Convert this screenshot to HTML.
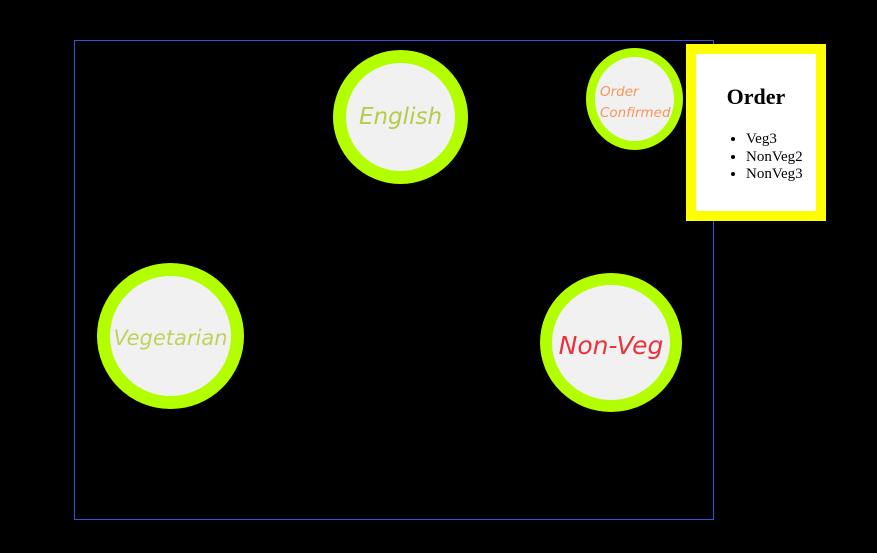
<!DOCTYPE html>
<html><head><style>
body{margin:0;width:877px;height:553px;background:#000;position:relative;overflow:hidden;font-family:"Liberation Sans",sans-serif}
.a{position:absolute;box-sizing:border-box}
.c{border-radius:50%;background:#f1f1f1;border:13px solid #b3ff00;display:flex;align-items:center;justify-content:center;font-style:italic;font-family:"DejaVu Sans","Liberation Sans",sans-serif}
</style></head><body>
<div class="a" style="left:74px;top:40px;width:640px;height:480px;border:1px solid #3355dd"></div>
<div class="a c" style="left:333px;top:50px;width:135px;height:134px;color:#b5cc4a;font-size:23px;">English</div>
<div class="a c" style="left:586px;top:48px;width:97px;height:102px;border-width:9px;color:#f7955a;font-size:13.5px;line-height:21px;text-align:left;justify-content:flex-start;padding-left:5px;padding-top:8px">Order<br>Confirmed</div>
<div class="a c" style="left:97px;top:263px;width:147px;height:146px;color:#bfd25c;font-size:21px;padding-top:4px">Vegetarian</div>
<div class="a c" style="left:540px;top:273px;width:142px;height:139px;border-width:12px;color:#e8323c;font-size:25px;padding-top:6px">Non-Veg</div>
<div class="a" style="left:686px;top:44px;width:140px;height:177px;border:10px solid #ffff00;background:#fff;font-family:'Liberation Serif',serif;color:#000">
<div style="position:absolute;left:0;right:0;top:30px;text-align:center;font-weight:bold;font-size:22px;line-height:26px">Order</div>
<ul style="position:absolute;left:0;top:77px;margin:0;padding-left:50px;font-size:15px;line-height:17.5px">
<li>Veg3</li><li>NonVeg2</li><li>NonVeg3</li></ul>
</div>
</body></html>
